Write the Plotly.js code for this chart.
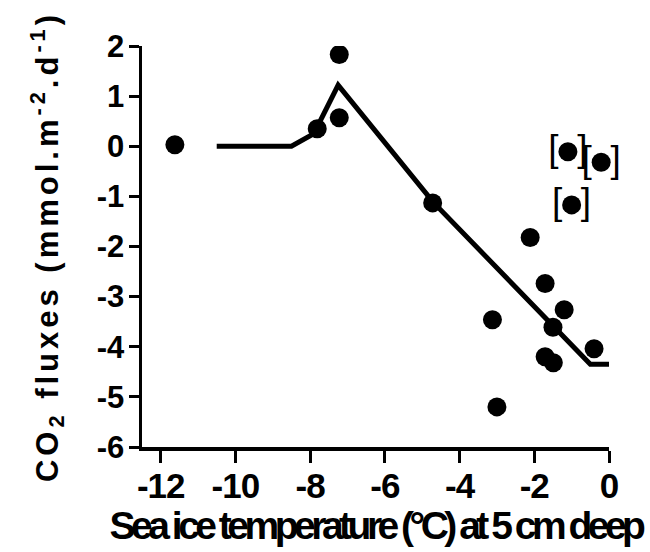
<!DOCTYPE html>
<html>
<head>
<meta charset="utf-8">
<script src="https://cdn.plot.ly/plotly-3.0.1.min.js"></script>
<style>
html, body { margin: 0; padding: 0; background: #fff; }
#chart { width: 650px; height: 552px; }
.xtitle { letter-spacing: -4.5px; }
.ytitle { letter-spacing: 4px; }
.xtick text { letter-spacing: -1px; }
</style>
</head>
<body>
<div id="chart"></div>
<script>
// Measured points (sea ice temperature °C at 5 cm, CO2 flux mmol m-2 d-1)
var tempX = [-11.62, -7.22, -7.22, -7.81, -4.72, -2.11, -1.71, -1.20, -1.50, -3.12, -1.71, -1.49, -0.40, -3.00];
var fluxY = [0.03, 1.83, 0.57, 0.35, -1.13, -1.82, -2.74, -3.26, -3.61, -3.46, -4.20, -4.32, -4.04, -5.20];

// Bracketed (excluded) points
var bracketX = [-1.10, -0.21, -1.00];
var bracketY = [-0.11, -0.32, -1.17];

// Fitted model line
var fitX = [-10.5, -8.5, -7.9, -7.25, -4.7, -0.5, 0];
var fitY = [0, 0, 0.25, 1.22, -1.12, -4.35, -4.35];

// Axis ticks
var xTickVals = [-12, -10, -8, -6, -4, -2, 0];
var xTickText = ["-12", "-10", "-8", "-6", "-4", "-2", "0"];
var yTickVals = [-6, -5, -4, -3, -2, -1, 0, 1, 2];
var yTickText = ["-6", "-5", "-4", "-3", "-2", "-1", "0", "1", "2"];

var FONT = 'Liberation Sans, Arial, sans-serif';

var traces = [
  {
    x: fitX, y: fitY, type: 'scatter', mode: 'lines',
    line: { color: '#000', width: 5 }, hoverinfo: 'skip'
  },
  {
    x: tempX, y: fluxY, type: 'scatter', mode: 'markers',
    marker: { color: '#000', size: 19, line: { width: 0 } }
  },
  {
    x: bracketX, y: bracketY, type: 'scatter', mode: 'markers+text',
    cliponaxis: false,
    marker: { color: '#000', size: 19, line: { width: 0 } },
    text: ['[\u2002]', '[\u2002]', '[\u2002]'],
    textposition: 'middle center',
    textfont: { family: FONT, size: 37, color: '#000' }
  }
];

var layout = {
  width: 650, height: 552,
  margin: { l: 142, r: 41, t: 46, b: 105 },
  paper_bgcolor: '#fff', plot_bgcolor: '#fff',
  showlegend: false,
  xaxis: {
    range: [-12.5, 0],
    tickvals: xTickVals, ticktext: xTickText,
    showgrid: false, zeroline: false,
    showline: true, linecolor: '#000', linewidth: 3.5,
    ticks: 'outside', ticklen: 12, tickwidth: 3, tickcolor: '#000',
    tickfont: { family: FONT, size: 35, color: '#000', weight: 'bold' },
    ticklabelstandoff: -7,
    title: { text: 'Sea ice temperature (°C) at 5 cm deep', font: { family: FONT, size: 39, color: '#000', weight: 'bold' }, standoff: 4 }
  },
  yaxis: {
    range: [-6, 2],
    tickvals: yTickVals, ticktext: yTickText,
    showgrid: false, zeroline: false,
    showline: true, linecolor: '#000', linewidth: 3.5,
    ticks: 'outside', ticklen: 10, tickwidth: 3, tickcolor: '#000',
    tickfont: { family: FONT, size: 31, color: '#000', weight: 'bold' },
    ticklabelstandoff: -2,
    title: { text: 'CO<sub>2</sub> fluxes (mmol.m<sup>-2</sup>.d<sup>-1</sup>)', font: { family: FONT, size: 31, color: '#000', weight: 'bold' }, standoff: 30 }
  }
};

Plotly.newPlot('chart', traces, layout, { displayModeBar: false, staticPlot: true });
</script>
</body>
</html>
